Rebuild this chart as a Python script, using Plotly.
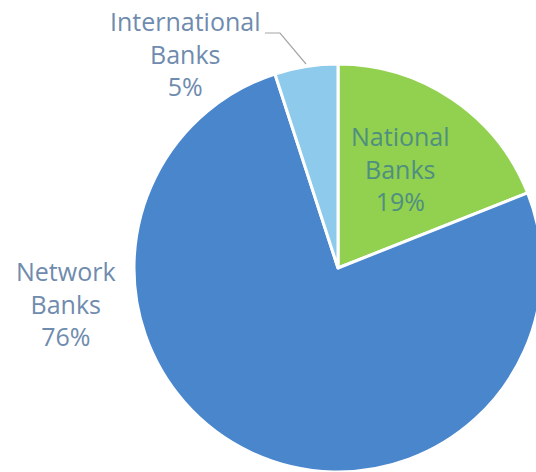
import plotly.graph_objects as go

# Share of banks by type
categories = ["National Banks", "Network Banks", "International Banks"]
shares = [19, 76, 5]
colors = ["#92D050", "#4A86CC", "#8DCAEB"]

W, H = 550, 480
L, T, SIDE = 134, 64, 408  # plot area: left, top, square size

fig = go.Figure(
    go.Pie(
        labels=categories,
        values=shares,
        sort=False,
        direction="clockwise",
        rotation=0,
        marker=dict(colors=colors, line=dict(color="white", width=3)),
        textinfo="none",
        hoverinfo="label+percent",
        showlegend=False,
    )
)


def px(x):
    return (x - L) / SIDE


def py(y):
    return 1 - (y - T) / SIDE


font_family = "Open Sans, Segoe UI, sans-serif"
label_specs = [
    # (category index, center x, center y, colour)
    (0, 400, 168, "#4F8F80"),
    (1, 66, 303, "#6F8BAE"),
    (2, 185, 53, "#6F8BAE"),
]
for idx, cx, cy, col in label_specs:
    name = categories[idx].replace(" ", "<br>")
    fig.add_annotation(
        x=px(cx), y=py(cy), xref="paper", yref="paper",
        xanchor="center", yanchor="middle",
        text=f"{name}<br>{shares[idx]}%",
        showarrow=False, align="center",
        font=dict(family=font_family, size=25, color=col),
    )

# Leader line for the small slice
lx = [265, 280, 306]
ly = [33, 33, 64]
path = "M " + " L ".join(f"{px(a)},{py(b)}" for a, b in zip(lx, ly))
fig.add_shape(type="path", path=path, xref="paper", yref="paper",
              line=dict(color="#A6A6A6", width=1.2))

fig.update_layout(
    width=W, height=H,
    margin=dict(l=L, t=T, r=W - L - SIDE, b=H - T - SIDE, pad=0),
    paper_bgcolor="white", plot_bgcolor="white",
)

fig.write_html("out.html")
